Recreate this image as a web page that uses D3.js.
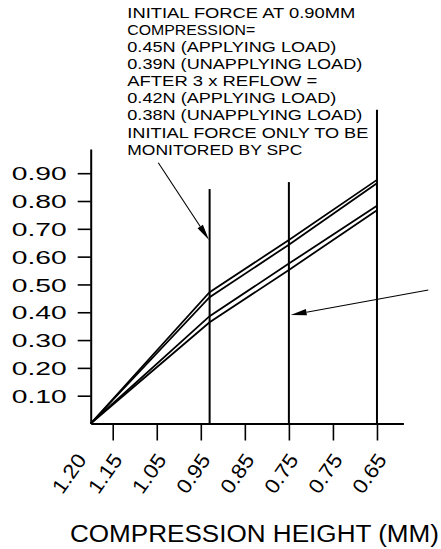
<!DOCTYPE html>
<html><head><meta charset="utf-8">
<script src="https://cdn.jsdelivr.net/npm/d3@7"></script>
<style>html,body{margin:0;padding:0;background:#fff;overflow:hidden}</style>
</head><body><svg id="c" width="441" height="549"></svg>
<script>
// ---- data ----
const xTickValues = [1.20, 1.15, 1.05, 0.95, 0.85, 0.75, 0.65, 0.55];
const xTickLabels = ["1.20", "1.15", "1.05", "0.95", "0.85", "0.75", "0.75", "0.65"];
const yTicks = [0.10, 0.20, 0.30, 0.40, 0.50, 0.60, 0.70, 0.80, 0.90];
const xPoints = [1.20, 0.93, 0.75, 0.55];
const seriesA = [0, 0.472, 0.660, 0.876];
const seriesB = [0, 0.454, 0.643, 0.864];
const seriesC = [0, 0.386, 0.575, 0.783];
const seriesD = [0, 0.364, 0.552, 0.767];
const markerX = [0.93, 0.75, 0.55];
const markerTop = [0.843, 0.868, 1.128];
const noteLines = [
  "INITIAL FORCE AT 0.90MM",
  "COMPRESSION=",
  "0.45N (APPLYING LOAD)",
  "0.39N (UNAPPLYING LOAD)",
  "AFTER 3 x REFLOW =",
  "0.42N (APPLYING LOAD)",
  "0.38N (UNAPPLYING LOAD)",
  "INITIAL FORCE ONLY TO BE",
  "MONITORED BY SPC"
];
const axisTitle = "COMPRESSION HEIGHT (MM)";

// ---- layout ----
const FONT = "'Liberation Sans', Arial, sans-serif";
const svg = d3.select("#c");
svg.append("rect").attr("width",441).attr("height",549).attr("fill","#fff");
const x = d3.scaleLinear().domain([1.20, 0.49]).range([90.7, 403.4]);
const y = d3.scaleLinear().domain([0, 0.987]).range([423.5, 149]);

// y axis
const gy = svg.append("g").attr("transform", `translate(${x(1.20)},0)`)
  .call(d3.axisLeft(y).tickValues(yTicks).tickSize(13).tickSizeOuter(0).tickFormat(d3.format(".2f")));
gy.select(".domain").attr("stroke", "#000").attr("stroke-width", 2);
gy.selectAll(".tick line").attr("stroke", "#000").attr("stroke-width", 1.6);
gy.selectAll(".tick text").attr("font-family", FONT).attr("font-size", 18.5).attr("fill", "#000")
  .attr("text-anchor", "start").attr("x", -79).attr("dy", "0.36em")
  .attr("textLength", 55).attr("lengthAdjust", "spacingAndGlyphs");

// x axis
const gx = svg.append("g").attr("transform", `translate(0,${y(0)})`)
  .call(d3.axisBottom(x).tickValues(xTickValues).tickSize(17).tickSizeOuter(0)
    .tickFormat((d, i) => xTickLabels[i]));
gx.select(".domain").attr("stroke", "#000").attr("stroke-width", 2);
gx.selectAll(".tick line").attr("stroke", "#000").attr("stroke-width", 1.6)
  .attr("opacity", (d, i) => i === 0 ? 0 : 1);
gx.selectAll(".tick text").attr("font-family", FONT).attr("font-size", 20.5).attr("fill", "#000")
  .attr("text-anchor", "end").attr("y", 0).attr("dy", 0)
  .attr("transform", (d, i) => `translate(${i === 0 ? -4 : 10},36.5) rotate(-55)`)
  .attr("textLength", 43).attr("lengthAdjust", "spacingAndGlyphs");

// vertical reference lines
svg.append("g").selectAll("line").data(markerX).join("line")
  .attr("x1", d => x(d)).attr("x2", d => x(d))
  .attr("y1", y(0)).attr("y2", (d, i) => y(markerTop[i]))
  .attr("stroke", "#000").attr("stroke-width", 2);

// series lines
const line = d3.line().x((d, i) => x(xPoints[i])).y(d => y(d));
svg.append("g").selectAll("path").data([seriesA, seriesB, seriesC, seriesD]).join("path")
  .attr("d", line).attr("fill", "none").attr("stroke", "#000").attr("stroke-width", 1.8)
  .attr("stroke-linejoin", "miter");

// annotation text
const noteBase = [18, 35, 52, 69, 86, 103, 120, 137.5, 155];
const noteWidth = [228, 128, 209, 235, 190, 209, 235, 241, 175];
svg.append("g").selectAll("text").data(noteLines).join("text")
  .attr("x", 127.3).attr("y", (d, i) => noteBase[i])
  .attr("font-family", FONT).attr("font-size", 14.8).attr("fill", "#000")
  .attr("textLength", (d, i) => noteWidth[i]).attr("lengthAdjust", "spacingAndGlyphs")
  .text(d => d);

// arrows
function arrow(x0, y0, x1, y1) {
  const dx = x1 - x0, dy = y1 - y0, L = Math.hypot(dx, dy);
  const ux = dx / L, uy = dy / L, hl = 16, hw = 3.2;
  const bx = x1 - ux * hl, by = y1 - uy * hl;
  svg.append("line").attr("x1", x0).attr("y1", y0).attr("x2", bx).attr("y2", by)
    .attr("stroke", "#000").attr("stroke-width", 1.1);
  svg.append("path").attr("d",
    `M${x1},${y1}L${bx - uy * hw},${by + ux * hw}L${bx + uy * hw},${by - ux * hw}Z`)
    .attr("fill", "#000");
}
arrow(158.3, 162.7, x(0.93) - 0.6, y(0.66));
arrow(428.3, 290, x(0.75) + 1.8, y(0.39));

// axis title
svg.append("text").attr("x", 70).attr("y", 541.7)
  .attr("font-family", FONT).attr("font-size", 23).attr("fill", "#000")
  .attr("textLength", 369).attr("lengthAdjust", "spacingAndGlyphs")
  .text(axisTitle);
</script>
</body></html>
